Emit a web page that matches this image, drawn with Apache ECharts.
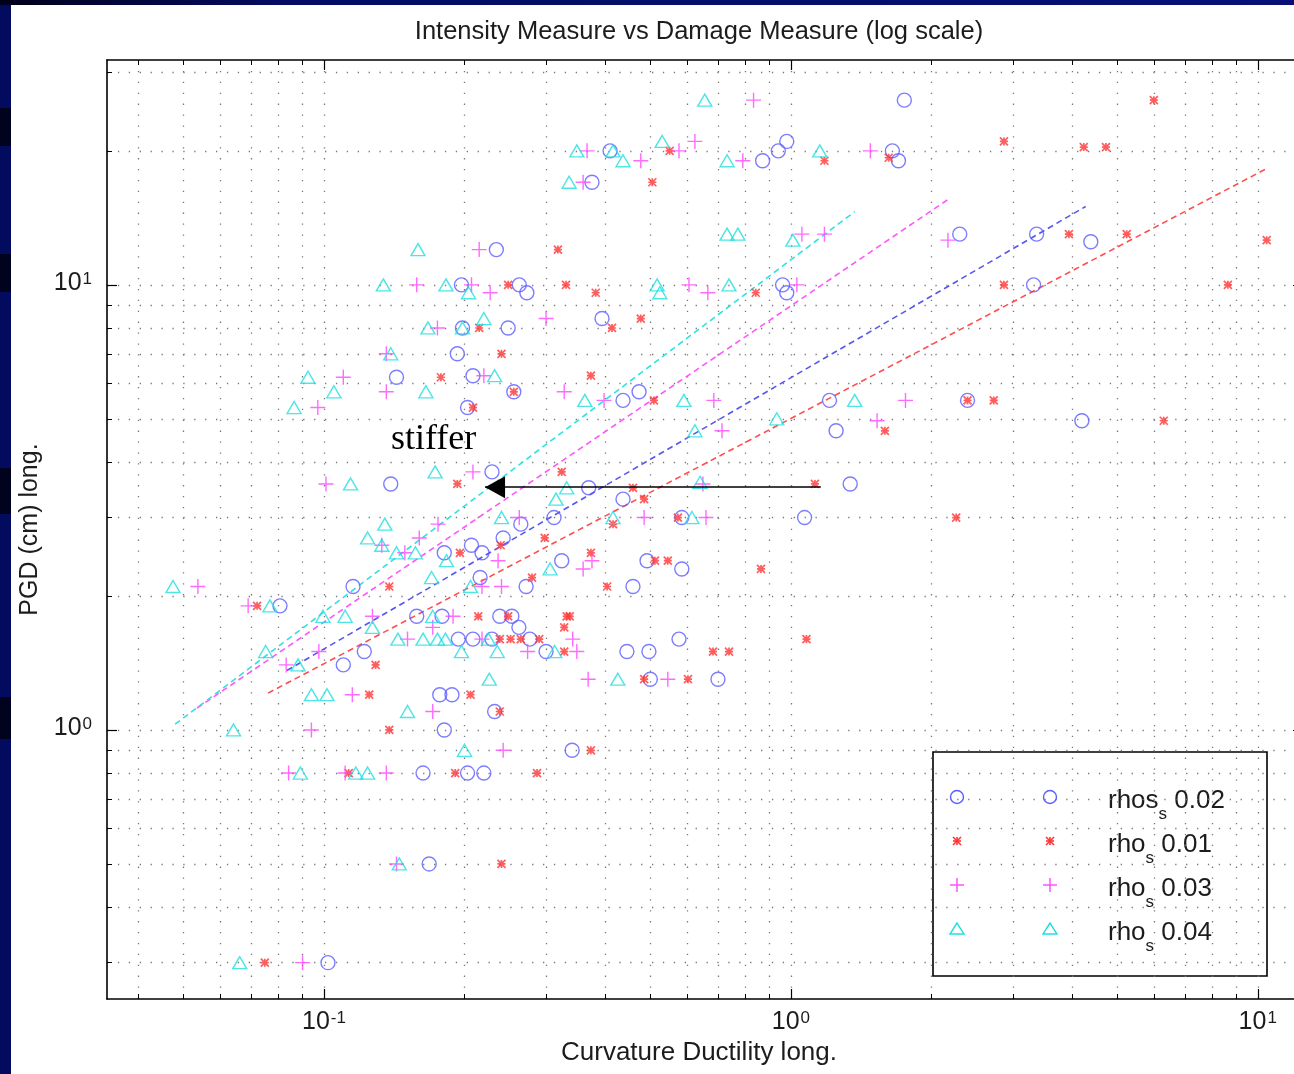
<!DOCTYPE html>
<html>
<head>
<meta charset="utf-8">
<script src="https://cdn.jsdelivr.net/npm/echarts@6/dist/echarts.min.js"></script>
<style>
html, body { margin: 0; padding: 0; background: #ffffff; }
#chart { width: 1294px; height: 1074px; }
</style>
</head>
<body>
<div id="chart"></div>
<script>
// ---- data: [curvature ductility, PGD (cm)] ----
const rhos002 = [
  [1.75,26],[0.41,20],[0.94,20],[0.98,21],[1.65,20],[1.70,19],[0.87,19],[0.375,17],
  [0.234,12],[0.197,10],[0.262,10],[0.272,9.6],[0.96,10],[0.98,9.6],[2.30,13],[3.36,13],[4.39,12.5],[3.31,10],
  [0.394,8.4],[0.198,8.0],[0.248,8.0],[0.193,7.0],[0.2085,6.25],[0.143,6.2],[0.255,5.75],[0.473,5.75],[0.437,5.5],
  [0.203,5.3],[1.21,5.5],[2.39,5.5],[1.25,4.7],[4.2,4.95],
  [0.229,3.8],[0.139,3.57],[1.34,3.57],[0.369,3.5],[0.437,3.3],[1.07,3.0],[0.264,2.9],[0.311,3.0],[0.584,3.0],
  [0.242,2.7],[0.207,2.6],[0.181,2.5],[0.218,2.5],[0.323,2.4],[0.492,2.4],[0.584,2.3],[0.216,2.2],[0.1154,2.1],
  [0.271,2.1],[0.459,2.1],
  [0.0805,1.9],[0.158,1.8],[0.179,1.8],[0.238,1.8],[0.2526,1.8],[0.2615,1.7],[0.194,1.6],[0.2085,1.6],[0.229,1.6],
  [0.276,1.6],[0.576,1.6],[0.122,1.5],[0.299,1.5],[0.4455,1.5],[0.4966,1.5],[0.11,1.4],[0.5,1.3],[0.698,1.3],
  [0.177,1.2],[0.188,1.2],[0.232,1.1],[0.181,1.0],[0.34,0.9],[0.163,0.8],[0.203,0.8],[0.22,0.8],[0.168,0.5],[0.102,0.3]
];
const rho001 = [
  [5.99,26],[0.55,20],[2.86,21],[4.24,20.4],[4.73,20.4],[1.18,19],[1.62,19.3],[0.505,17],
  [0.317,12],[0.248,10],[0.33,10],[0.382,9.6],[0.841,9.6],[2.86,10],[3.94,13],[5.24,13],[10.45,12.6],[8.63,10],
  [0.477,8.4],[0.215,8.0],[0.414,8.0],[0.24,7.0],[0.178,6.2],[0.373,6.25],[0.255,5.75],[0.509,5.5],[0.2085,5.3],
  [2.39,5.5],[2.72,5.5],[1.59,4.7],[6.29,4.95],
  [0.193,3.57],[0.323,3.8],[0.459,3.5],[0.485,3.3],[1.126,3.57],[0.416,2.9],[0.573,3.0],[2.26,3.0],[0.297,2.7],
  [0.239,2.6],[0.138,2.1],[0.1955,2.5],[0.373,2.5],[0.5115,2.4],[0.545,2.4],[0.863,2.3],[0.279,2.2],[0.404,2.1],
  [0.0719,1.9],[0.214,1.8],[0.248,1.8],[0.331,1.8],[0.336,1.8],[0.327,1.7],[0.238,1.6],[0.251,1.6],[0.264,1.6],
  [0.289,1.6],[1.08,1.6],[0.327,1.5],[0.681,1.5],[0.737,1.5],[0.129,1.4],[0.485,1.3],[0.602,1.3],[0.125,1.2],
  [0.206,1.2],[0.238,1.1],[0.138,1.0],[0.373,0.9],[0.113,0.8],[0.191,0.8],[0.286,0.8],[0.24,0.5],[0.0747,0.3]
];
const rho003 = [
  [0.832,26],[0.366,20],[0.477,19],[0.576,20],[0.623,21],[0.789,19],[1.48,20],[0.359,17],
  [0.215,12],[0.158,10],[0.207,10],[0.227,9.6],[0.605,10],[0.664,9.6],[1.056,13],[1.18,13],[2.17,12.6],[1.03,10],
  [0.299,8.4],[0.175,8.0],[0.136,7.0],[0.11,6.2],[0.136,5.75],[0.097,5.3],[0.22,6.25],[0.327,5.75],[0.398,5.5],
  [0.684,5.5],[1.76,5.5],[0.712,4.7],[1.53,4.95],
  [0.2085,3.8],[0.101,3.57],[0.648,3.57],[0.1755,2.9],[0.262,3.0],[0.485,3.0],[0.658,3.0],[0.133,2.6],[0.16,2.7],
  [0.149,2.5],[0.236,2.4],[0.359,2.3],[0.375,2.4],[0.0537,2.1],[0.218,2.1],[0.24,2.1],
  [0.0688,1.9],[0.127,1.8],[0.189,1.8],[0.171,1.7],[0.151,1.6],[0.218,1.6],[0.341,1.6],[0.0975,1.5],[0.273,1.5],
  [0.348,1.5],[0.083,1.4],[0.368,1.3],[0.545,1.3],[0.115,1.2],[0.171,1.1],[0.094,1.0],[0.242,0.9],[0.084,0.8],
  [0.111,0.8],[0.136,0.8],[0.143,0.5],[0.09,0.3]
];
const rho004 = [
  [0.654,26],[0.348,20],[0.416,20],[0.437,19],[0.53,21],[0.73,19],[1.153,20],[0.335,17],
  [0.73,13],[0.77,13],[1.01,12.6],[0.159,12],[0.134,10],[0.1825,10],[0.204,9.6],[0.517,10],[0.524,9.6],[0.737,10],
  [0.22,8.4],[0.167,8.0],[0.198,8.0],[0.139,7.0],[0.0924,6.2],[0.105,5.75],[0.1653,5.75],[0.0863,5.3],[0.232,6.25],
  [0.362,5.5],[0.59,5.5],[1.37,5.5],[0.623,4.7],[0.933,5.0],
  [0.173,3.8],[0.114,3.57],[0.639,3.6],[0.331,3.5],[0.314,3.3],[0.24,3.0],[0.416,3.0],[0.614,3.0],[0.135,2.9],
  [0.124,2.7],[0.133,2.6],[0.143,2.5],[0.157,2.5],[0.183,2.4],[0.305,2.3],[0.17,2.2],[0.0475,2.1],[0.206,2.1],
  [0.0766,1.9],[0.0995,1.8],[0.111,1.8],[0.171,1.8],[0.127,1.7],[0.144,1.6],[0.163,1.6],[0.175,1.6],[0.182,1.6],
  [0.225,1.6],[0.197,1.5],[0.235,1.5],[0.312,1.5],[0.075,1.5],[0.088,1.4],[0.226,1.3],[0.426,1.3],[0.094,1.2],
  [0.1015,1.2],[0.151,1.1],[0.064,1.0],[0.2,0.9],[0.089,0.8],[0.117,0.8],[0.124,0.8],[0.145,0.5],[0.066,0.3]
];

// power-law fits (straight in log-log): end points of each fitted segment
const fit002 = [[0.0833, 1.36], [4.28, 15.0]];
const fit001 = [[0.0759, 1.21], [10.4, 18.2]];
const fit003 = [[0.0535, 1.12], [2.18, 15.6]];
const fit004 = [[0.048, 1.03], [1.37, 14.6]];

// annotation arrow, from -> to
const arrowFrom = [1.159, 3.51];
const arrowTo = [0.2213, 3.51];

// axes
const xRange = [0.0343, 12.5];
const yRange = [0.2486, 32];
const xMajorTicks = [0.1, 1, 10];
const xMinorTicks = [0.04,0.05,0.06,0.07,0.08,0.09,0.2,0.3,0.4,0.5,0.6,0.7,0.8,0.9,2,3,4,5,6,7,8,9];
const yMajorTicks = [1, 10];
const yMinorTicks = [0.3,0.4,0.5,0.6,0.7,0.8,0.9,2,3,4,5,6,7,8,9,20,30];

const titleText = 'Intensity Measure vs Damage Measure (log scale)';
const xName = 'Curvature Ductility long.';
const yName = 'PGD (cm) long.';
const legendBase = ['rhos', 'rho', 'rho', 'rho'];
const legendValue = ['0.02', '0.01', '0.03', '0.04'];

// ---- styling ----
const FONT = '"Liberation Sans", Arial, Helvetica, sans-serif';
const TEXT = '#1c1c1c';
const C_BLUE = '#5c5cff';
const C_RED = '#ff3434';
const C_MAG = '#ff45ff';
const C_CYAN = '#22dede';

const xAll = xMajorTicks.concat(xMinorTicks).sort((a, b) => a - b);
const yAll = yMajorTicks.concat(yMinorTicks).sort((a, b) => a - b);

function powLabel(v) {
  const e = Math.round(Math.log10(v));
  return '{b|10}{e|' + e + '}';
}
const tickRich = {
  b: { fontSize: 25, lineHeight: 28, fontFamily: FONT, color: TEXT, verticalAlign: 'top' },
  e: { fontSize: 17, lineHeight: 13, fontFamily: FONT, color: TEXT, verticalAlign: 'top', padding: [0, 0, 0, 1] }
};
const gridDots = { type: [1.3, 9.6], color: '#777777', width: 1.3 };
const frameLine = { show: true, onZero: false, lineStyle: { color: '#000', width: 1.6 } };

function axisCommon(range, pos, grid) {
  return {
    type: 'log', logBase: 10, gridIndex: grid, position: pos,
    min: range[0], max: range[1],
    splitLine: { show: false }, minorTick: { show: false }, minorSplitLine: { show: false },
    axisLabel: { show: false }, silent: true
  };
}
// minor ticks + dotted grid (grid 0), longer major ticks (grid 1)
function minorAxis(range, pos, allTicks, withGrid) {
  const a = axisCommon(range, pos, 0);
  a.axisLine = frameLine;
  a.axisTick = { show: true, inside: true, length: 5, customValues: allTicks, lineStyle: { color: '#000', width: 1 } };
  if (withGrid) a.splitLine = { show: true, lineStyle: gridDots };
  return a;
}
function majorAxis(range, pos, majors) {
  const a = axisCommon(range, pos, 1);
  a.axisLine = { show: false };
  a.axisTick = { show: true, inside: true, length: 10, customValues: majors, lineStyle: { color: '#000', width: 1.2 } };
  return a;
}

const xBottom = minorAxis(xRange, 'bottom', xAll, true);
xBottom.axisLabel = { show: true, customValues: xMajorTicks, formatter: powLabel, rich: tickRich, margin: 11 };
xBottom.name = xName;
xBottom.nameLocation = 'middle';
xBottom.nameGap = 41;
xBottom.nameTextStyle = { fontSize: 26, fontFamily: FONT, color: TEXT, padding: [0, 12, 0, 0] };

const yLeft = minorAxis(yRange, 'left', yAll, true);
yLeft.axisLabel = { show: true, customValues: yMajorTicks, formatter: powLabel, rich: tickRich, margin: 15 };
yLeft.name = yName;
yLeft.nameLocation = 'middle';
yLeft.nameGap = 64;
yLeft.nameTextStyle = { fontSize: 25, fontFamily: FONT, color: TEXT };

const chart = echarts.init(document.getElementById('chart'), null, { renderer: 'canvas' });

function scatter(name, data, symbol, size, color, width) {
  return {
    name: name, type: 'scatter', data: data, xAxisIndex: 0, yAxisIndex: 0,
    symbol: symbol, symbolSize: size, silent: true, z: 4,
    itemStyle: { color: 'rgba(0,0,0,0)', borderColor: color, borderWidth: width }
  };
}
function fitLine(name, data, color) {
  return {
    name: name, type: 'line', data: data, xAxisIndex: 0, yAxisIndex: 0,
    showSymbol: false, symbol: 'none', silent: true, z: 3,
    lineStyle: { color: color, width: 1.6, type: [6, 4] }
  };
}

// legend block
const LG = { x: 933, y: 752, w: 334, h: 224, mark1: 957, mark2: 1050, text: 1108, row0: 797, step: 44 };
const legendColors = [C_BLUE, C_RED, C_MAG, C_CYAN];
function legendMarker(kind, cx, cy, color) {
  const st = { stroke: color, lineWidth: 1.4, fill: null };
  if (kind === 0) return [{ type: 'circle', shape: { cx: cx, cy: cy, r: 6.5 }, style: st }];
  if (kind === 1) {
    const r = 4;
    return [
      { type: 'line', shape: { x1: cx - r, y1: cy - r, x2: cx + r, y2: cy + r }, style: { stroke: color, lineWidth: 1.6 } },
      { type: 'line', shape: { x1: cx + r, y1: cy - r, x2: cx - r, y2: cy + r }, style: { stroke: color, lineWidth: 1.6 } },
      { type: 'line', shape: { x1: cx, y1: cy - r, x2: cx, y2: cy + r }, style: { stroke: color, lineWidth: 1.6 } },
      { type: 'line', shape: { x1: cx - r, y1: cy, x2: cx + r, y2: cy }, style: { stroke: color, lineWidth: 1.6 } }
    ];
  }
  if (kind === 2) {
    return [
      { type: 'line', shape: { x1: cx - 7, y1: cy, x2: cx + 7, y2: cy }, style: { stroke: color, lineWidth: 1.4 } },
      { type: 'line', shape: { x1: cx, y1: cy - 7, x2: cx, y2: cy + 7 }, style: { stroke: color, lineWidth: 1.4 } }
    ];
  }
  return [{ type: 'polygon', shape: { points: [[cx, cy - 6], [cx - 7, cy + 5], [cx + 7, cy + 5]] }, style: st }];
}
const legendChildren = [{
  type: 'rect', shape: { x: LG.x, y: LG.y, width: LG.w, height: LG.h },
  style: { fill: '#fff', stroke: '#000', lineWidth: 1.6 }
}];
legendBase.forEach((b, i) => {
  const cy = LG.row0 + i * LG.step;
  legendChildren.push.apply(legendChildren, legendMarker(i, LG.mark1, cy, legendColors[i]));
  legendChildren.push.apply(legendChildren, legendMarker(i, LG.mark2, cy, legendColors[i]));
  legendChildren.push({
    type: 'text', x: LG.text, y: cy + 4,
    style: {
      text: '{t|' + b + '}{s|s}{t| ' + legendValue[i] + '}',
      verticalAlign: 'middle', align: 'left',
      rich: {
        t: { fontSize: 26, lineHeight: 26, fontFamily: FONT, fill: TEXT, verticalAlign: 'top' },
        s: { fontSize: 17, lineHeight: 16, fontFamily: FONT, fill: TEXT, verticalAlign: 'top', padding: [18, 0, 0, 0] }
      }
    }
  });
});

// darker bands of the slide's left edge
const edgeBands = [[108, 38], [254, 38], [468, 46], [697, 42]];
const edgeRects = edgeBands.map(b => ({
  type: 'rect', z: -9, shape: { x: 0, y: b[0], width: 11, height: b[1] }, style: { fill: '#00021e' }
}));

const option = {
  animation: false,
  backgroundColor: '#ffffff',
  grid: [
    { left: 107, top: 60, right: -9, bottom: 75, containLabel: false, outerBoundsMode: 'none' },
    { left: 107, top: 60, right: -9, bottom: 75, containLabel: false, outerBoundsMode: 'none' }
  ],
  xAxis: [
    xBottom,
    minorAxis(xRange, 'top', xAll, false),
    majorAxis(xRange, 'bottom', xMajorTicks),
    majorAxis(xRange, 'top', xMajorTicks)
  ],
  yAxis: [
    yLeft,
    minorAxis(yRange, 'right', yAll, false),
    majorAxis(yRange, 'left', yMajorTicks),
    majorAxis(yRange, 'right', yMajorTicks)
  ],
  graphic: {
    elements: [
      // slide background strips
      { type: 'rect', z: -10, shape: { x: 0, y: 0, width: 11, height: 1074 }, style: { fill: '#020b5e' } },
      { type: 'rect', z: -10, shape: { x: 0, y: 0, width: 1294, height: 5 },
        style: { fill: new echarts.graphic.LinearGradient(0, 0, 1, 0, [
          { offset: 0, color: '#00001a' }, { offset: 0.22, color: '#030c62' }, { offset: 1, color: '#071076' }
        ]) } }
    ].concat(edgeRects).concat([
      { type: 'text', x: 699, y: 32, z: 10,
        style: { text: titleText, fontSize: 25.5, fontFamily: FONT, fill: TEXT, align: 'center', verticalAlign: 'middle' } },
      { type: 'text', x: 391, y: 440, z: 10,
        style: { text: 'stiffer', fontSize: 36, fontFamily: '"Liberation Serif", "Times New Roman", serif', fill: '#000',
                 align: 'left', verticalAlign: 'middle' } },
      { type: 'group', z: 20, children: legendChildren }
    ])
  },
  series: [
    scatter('rhos_s 0.02', rhos002, 'circle', 14, C_BLUE, 1.4),
    scatter('rho_s 0.01', rho001, 'path://M0 0L10 10M10 0L0 10M5 0L5 10M0 5L10 5', 8, C_RED, 1.7),
    scatter('rho_s 0.03', rho003, 'path://M0 5L10 5M5 0L5 10', 15, C_MAG, 1.4),
    scatter('rho_s 0.04', rho004, 'triangle', [14, 12], C_CYAN, 1.4),
    fitLine('fit 0.02', fit002, '#5656f0'),
    fitLine('fit 0.01', fit001, '#ff4c4c'),
    fitLine('fit 0.03', fit003, '#ff55ff'),
    fitLine('fit 0.04', fit004, '#2fe2e2'),
    {
      name: 'stiffer', type: 'line', data: [], xAxisIndex: 0, yAxisIndex: 0, silent: true, z: 6,
      markLine: {
        silent: true, animation: false,
        symbol: ['none', 'triangle'], symbolSize: [22, 20], symbolOffset: [[0, 0], [0, 10]],
        label: { show: false },
        lineStyle: { color: '#000', width: 1.6, type: 'solid' },
        emphasis: { disabled: true },
        data: [[{ coord: arrowFrom }, { coord: arrowTo }]]
      }
    }
  ]
};
chart.setOption(option);
</script>
</body>
</html>
